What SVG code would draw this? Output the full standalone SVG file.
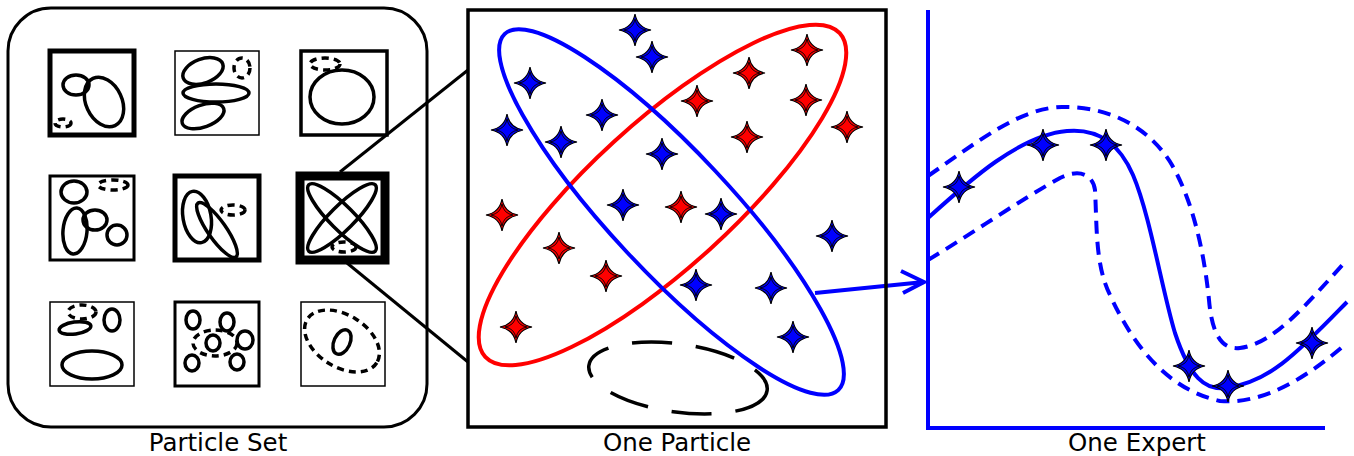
<svg xmlns="http://www.w3.org/2000/svg" width="1354" height="456" viewBox="0 0 1354 456">
<style>
.k{fill:none;stroke:#000;stroke-width:3.5}
.kd{fill:none;stroke:#000;stroke-width:3.5;stroke-dasharray:7 5}
.lbl{font-family:"DejaVu Sans",sans-serif;font-size:24.5px;fill:#000;text-anchor:middle}
.b{fill:none;stroke:#0000ff;stroke-width:4}
.bd{fill:none;stroke:#0000ff;stroke-width:4;stroke-dasharray:13 8}
.sb{fill:#0000ff}
.sr{fill:#ff0000}
</style>
<defs>
<g id="star">
<path d="M0,-16 Q2.5,-2.5 16,0 Q2.5,2.5 0,16 Q-2.5,2.5 -16,0 Q-2.5,-2.5 0,-16Z" stroke="#000" stroke-width="1.2"/>
<path d="M0,-11 Q1.5,-1.5 11,0 Q1.5,1.5 0,11 Q-1.5,1.5 -11,0 Q-1.5,-1.5 0,-11Z" fill="none" stroke="#000" stroke-width="0.9"/>
</g>
</defs>
<rect width="1354" height="456" fill="#fff"/>

<g id="particle-set">
<rect x="8" y="8" width="419" height="419" rx="43" fill="none" stroke="#000" stroke-width="3"/>
<g id="tile1">
<rect x="50" y="51" width="84" height="84" fill="#fff" stroke="#000" stroke-width="5"/>
<ellipse cx="76" cy="85" rx="13" ry="10" class="k"/>
<ellipse cx="104" cy="102" rx="18" ry="26" transform="rotate(-25 104 102)" class="k"/>
<ellipse cx="63" cy="123" rx="8" ry="4" class="kd"/>
</g>
<g id="tile2">
<rect x="175" y="51" width="84" height="84" fill="#fff" stroke="#000" stroke-width="1.5"/>
<ellipse cx="203" cy="71" rx="21" ry="12" transform="rotate(-20 203 71)" class="k"/>
<ellipse cx="216" cy="93" rx="33" ry="9" class="k"/>
<ellipse cx="203" cy="116" rx="22" ry="11" transform="rotate(-20 203 116)" class="k"/>
<ellipse cx="242" cy="68" rx="8" ry="10" class="kd"/>
</g>
<g id="tile3">
<rect x="301" y="51" width="86" height="84" fill="#fff" stroke="#000" stroke-width="3.5"/>
<ellipse cx="342" cy="97" rx="32" ry="27" class="k"/>
<ellipse cx="325" cy="64" rx="15" ry="6" class="kd"/>
</g>
<g id="tile4">
<rect x="50" y="176" width="84" height="84" fill="#fff" stroke="#000" stroke-width="3"/>
<ellipse cx="74" cy="192" rx="13" ry="11" class="k"/>
<ellipse cx="75" cy="231" rx="12" ry="23" transform="rotate(5 75 231)" class="k"/>
<ellipse cx="95" cy="220" rx="12" ry="10" class="k"/>
<ellipse cx="117" cy="235" rx="10" ry="10" class="k"/>
<ellipse cx="113" cy="185" rx="15" ry="5" class="kd"/>
</g>
<g id="tile5">
<rect x="175" y="176" width="84" height="84" fill="#fff" stroke="#000" stroke-width="5"/>
<ellipse cx="197" cy="217" rx="14" ry="26" transform="rotate(-10 197 217)" class="k"/>
<ellipse cx="217" cy="230" rx="9" ry="33" transform="rotate(-35 217 230)" class="k"/>
<ellipse cx="233" cy="210" rx="12" ry="5" class="kd"/>
</g>
<g id="tile6">
<rect x="300" y="176" width="85" height="84" fill="#fff" stroke="#000" stroke-width="9"/>
<ellipse cx="342" cy="218" rx="47" ry="12" transform="rotate(45 342 218)" class="k"/>
<ellipse cx="342" cy="218" rx="47" ry="12" transform="rotate(-45 342 218)" class="k"/>
<ellipse cx="344" cy="247" rx="12" ry="5" class="kd"/>
</g>
<g id="tile7">
<rect x="50" y="302" width="84" height="84" fill="#fff" stroke="#000" stroke-width="1.5"/>
<ellipse cx="82" cy="312" rx="14" ry="7" class="kd"/>
<ellipse cx="75" cy="328" rx="16" ry="6" transform="rotate(-8 75 328)" class="k"/>
<ellipse cx="112" cy="320" rx="8" ry="11" class="k"/>
<ellipse cx="92" cy="365" rx="30" ry="14" class="k"/>
</g>
<g id="tile8">
<rect x="175" y="302" width="84" height="84" fill="#fff" stroke="#000" stroke-width="3"/>
<ellipse cx="215" cy="343" rx="22" ry="13" class="kd"/>
<ellipse cx="193" cy="320" rx="7" ry="9" class="k"/>
<ellipse cx="227" cy="322" rx="7" ry="9" class="k"/>
<ellipse cx="245" cy="340" rx="8" ry="9" class="k"/>
<ellipse cx="213" cy="343" rx="7" ry="8" class="k"/>
<ellipse cx="192" cy="363" rx="7" ry="8" class="k"/>
<ellipse cx="237" cy="362" rx="7" ry="8" class="k"/>
</g>
<g id="tile9">
<rect x="301" y="302" width="84" height="84" fill="#fff" stroke="#000" stroke-width="1.5"/>
<ellipse cx="342" cy="341" rx="41" ry="26" transform="rotate(32 342 341)" class="kd"/>
<ellipse cx="342" cy="342" rx="8" ry="13" transform="rotate(25 342 342)" class="k"/>
</g>
</g>

<g id="connectors">
<line x1="340" y1="172" x2="468" y2="70" stroke="#000" stroke-width="3"/>
<line x1="347" y1="263" x2="468" y2="362" stroke="#000" stroke-width="3"/>
<line x1="815" y1="293" x2="924" y2="282" stroke="#0000ff" stroke-width="4"/>
<polyline points="901,271 924,282 903,293" fill="none" stroke="#0000ff" stroke-width="4"/>
</g>

<g id="one-particle">
<rect x="468" y="10" width="418" height="417" fill="none" stroke="#000" stroke-width="3.5"/>
<ellipse cx="678" cy="378" rx="90" ry="34" transform="rotate(8 678 378)" fill="none" stroke="#000" stroke-width="3.5" stroke-dasharray="40 24"/>
<ellipse cx="662.5" cy="195" rx="240" ry="72" transform="rotate(-42.4 662.5 195)" fill="none" stroke="#ff0000" stroke-width="4"/>
<ellipse cx="671.5" cy="212" rx="244" ry="60" transform="rotate(46.9 671.5 212)" fill="none" stroke="#0000ff" stroke-width="4"/>
<use href="#star" class="sb" x="635" y="30"/>
<use href="#star" class="sb" x="652" y="57"/>
<use href="#star" class="sb" x="530" y="83"/>
<use href="#star" class="sb" x="507" y="130"/>
<use href="#star" class="sb" x="561" y="142"/>
<use href="#star" class="sb" x="602" y="115"/>
<use href="#star" class="sb" x="662" y="154"/>
<use href="#star" class="sb" x="623" y="205"/>
<use href="#star" class="sb" x="721" y="214"/>
<use href="#star" class="sb" x="832" y="236"/>
<use href="#star" class="sb" x="696" y="285"/>
<use href="#star" class="sb" x="771" y="288"/>
<use href="#star" class="sb" x="793" y="337"/>
<use href="#star" class="sr" x="807" y="50"/>
<use href="#star" class="sr" x="749" y="73"/>
<use href="#star" class="sr" x="697" y="101"/>
<use href="#star" class="sr" x="806" y="100"/>
<use href="#star" class="sr" x="847" y="127"/>
<use href="#star" class="sr" x="747" y="137"/>
<use href="#star" class="sr" x="502" y="215"/>
<use href="#star" class="sr" x="681" y="207"/>
<use href="#star" class="sr" x="559" y="248"/>
<use href="#star" class="sr" x="606" y="276"/>
<use href="#star" class="sr" x="516" y="327"/>
</g>

<g id="one-expert">
<polyline points="928,10 928,428 1325,428" fill="none" stroke="#0000ff" stroke-width="4"/>
<path class="bd" d="M928,176 C980,140 1020,108 1062,107 C1110,106 1150,128 1172,165 C1195,205 1205,260 1209,300 C1212,335 1222,350 1240,348 C1275,344 1310,300 1347,260"/>
<path class="b" d="M928,218 C970,180 1020,135 1067,131 C1100,128 1120,145 1133,175 C1150,215 1162,290 1175,333 C1190,378 1205,390 1225,388 C1270,383 1300,350 1347,302"/>
<path class="bd" d="M928,260 C970,235 1020,200 1060,178 C1080,168 1093,175 1095,190 C1097,225 1095,265 1110,295 C1135,350 1170,390 1220,401 C1265,405 1310,375 1347,343"/>
<use href="#star" class="sb" x="959" y="187"/>
<use href="#star" class="sb" x="1043" y="145"/>
<use href="#star" class="sb" x="1106" y="145"/>
<use href="#star" class="sb" x="1189" y="366"/>
<use href="#star" class="sb" x="1228" y="386"/>
<use href="#star" class="sb" x="1312" y="343"/>
</g>

<g id="labels">
<text class="lbl" x="218" y="451">Particle Set</text>
<text class="lbl" x="677" y="451">One Particle</text>
<text class="lbl" x="1137" y="451">One Expert</text>
</g>
</svg>
